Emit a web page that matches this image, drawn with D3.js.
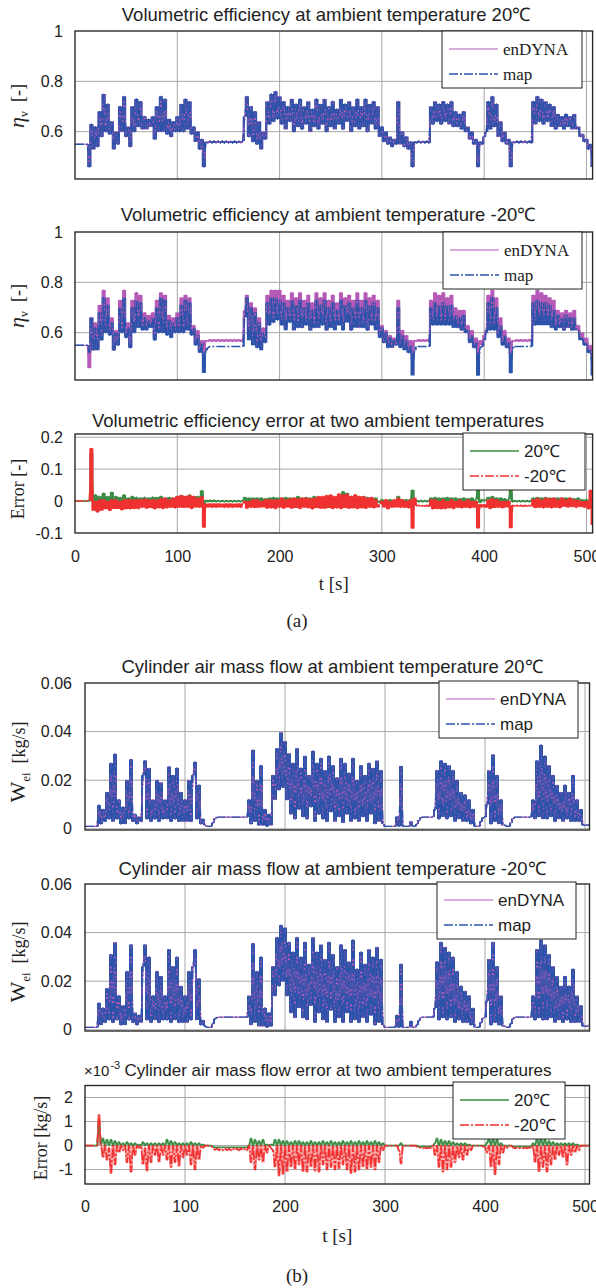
<!DOCTYPE html>
<html>
<head>
<meta charset="utf-8">
<script src="https://cdn.jsdelivr.net/npm/d3@7"></script>
<style>
  body { margin: 0; background: #fff; }
  svg { display: block; }
</style>
</head>
<body>
<svg id="fig" width="596" height="1288"></svg>
<script>
// Every recorded series is sampled every STEP seconds, starting at t = 0.
const STEP = 2;

// Volumetric efficiency at 20 ℃ (enDYNA and map coincide), in units of 0.01
const etaAmb20 = [
  55,55,55,55,55,55,55,46,63,53,
  62,54,68,58,75,60,71,59,64,53,
  60,55,70,60,74,58,62,54,70,60,
  73,62,72,61,66,61,65,62,66,57,
  70,60,74,60,73,59,65,58,64,60,
  66,60,71,60,73,61,72,59,62,56,
  60,53,57,46,56,55.5,56.3,55.5,56.3,55.5,
  56.3,55.5,56.3,55.5,56.3,55.5,56.3,55.5,56.3,55.5,
  56.3,55.5,56.3,66,74,58,70,56,68,55,
  64,53,60,57,72,63,75,64,76,65,
  74,63,72,61,70,64,73,60,71,62,
  73,61,70,63,72,60,69,62,73,61,
  71,63,73,60,70,62,72,61,69,63,
  73,61,71,64,72,60,70,62,73,61,
  70,62,73,60,71,63,72,61,70,58,
  62,56,60,55,58,54,57,55,72,55,
  60,54,58,53,56,46,56,55.5,56.3,55.5,
  56.3,55.5,56.3,55.5,70,63,72,64,71,63,
  72,64,71,63,72,62,68,62,67,61,
  68,60,62,57,60,55,57,46,56,55,
  58,60,72,61,74,62,71,58,64,56,
  60,55,57,46,56,55.5,56.3,55.5,56.3,55.5,
  56.3,55.5,56.3,55.5,72,63,74,64,73,63,
  72,64,71,62,70,61,67,62,66,61,
  67,62,66,61,67,61,62,58,59,56,
  57,53,55,46
];

// Volumetric efficiency at -20 ℃, enDYNA model, in units of 0.01
const etaEnCold = [
  55,55,55,55,55,55,55,46,66,53,
  64,54,71,59,77,61,74,60,66,53,
  61,55,73,61,77,59,64,54,73,61,
  76,63,75,62,68,62,67,63,68,58,
  73,61,76,61,75,60,67,59,66,61,
  68,61,74,61,75,62,74,60,63,56,
  61,53,57,52,57,56.5,57.3,56.5,57.3,56.5,
  57.3,56.5,57.3,56.5,57.3,56.5,57.3,56.5,57.3,56.5,
  57.3,56.5,57.3,69,75,59,72,56,70,55,
  66,54,62,58,75,64,77,65,77,66,
  77,64,75,62,73,65,76,61,74,63,
  76,62,73,64,75,61,72,63,76,62,
  74,64,76,61,73,63,75,62,72,64,
  76,62,74,65,75,61,73,63,76,62,
  73,63,76,61,74,64,75,62,73,59,
  63,56,61,55,59,54,58,55,73,55,
  61,54,59,53,57,52,57,56.5,57.3,56.5,
  57.3,56.5,57.3,56.5,73,64,76,65,75,64,
  76,65,74,64,75,63,70,62,69,61,
  69,60,63,57,61,55,58,52,57,55,
  59,61,75,62,77,63,74,59,66,56,
  61,55,58,52,57,56.5,57.3,56.5,57.3,56.5,
  57.3,56.5,57.3,56.5,75,64,77,65,76,64,
  75,65,74,63,73,62,69,62,68,61,
  69,62,68,61,69,61,63,58,60,56,
  58,53,55,50
];

// Volumetric efficiency at -20 ℃, map model, in units of 0.01
const etaMapCold = [
  55,55,55,55,55,55,55,52,66,53,
  62,53,68,57,74,60,71,59,64,53,
  60,55,70,60,74,58,62,54,70,60,
  73,62,72,61,66,61,65,62,66,57,
  70,60,74,60,73,59,65,58,64,60,
  66,60,71,60,73,61,72,59,62,55,
  59,52,56,44,53,54,54.5,54.5,54.5,54.5,
  54.5,54.5,54.5,54.5,54.5,54.5,54.5,54.5,54.5,54.5,
  54.5,54.5,54.5,66,74,57,70,55,68,54,
  64,53,60,56,72,63,74,64,74,65,
  73,63,72,61,70,64,73,61,71,62,
  73,62,70,63,72,61,69,62,73,62,
  71,63,73,61,70,62,72,61,69,63,
  73,61,71,64,72,61,70,62,73,62,
  70,62,73,61,71,63,72,61,70,58,
  62,56,60,54,58,54,57,55,70,54,
  59,53,57,52,55,43,53,54.5,54.5,54.5,
  54.5,54.5,54.5,54.5,70,63,72,63,71,63,
  72,63,71,63,71,62,67,62,66,61,
  67,60,61,56,59,54,56,43,54,54.5,
  57,60,72,61,74,61,70,58,63,55,
  59,54,56,44,54,54.5,54.5,54.5,54.5,54.5,
  54.5,54.5,54.5,54.5,72,63,73,63,72,63,
  72,63,71,62,69,61,67,62,66,61,
  67,62,66,61,66,61,61,57,58,55,
  56,52,53,43
];

// Volumetric efficiency error (map - enDYNA), in units of 0.01
const etaErr20 = [
  0,0,0,0,0,0,0,0,15,-0.5,
  2,-0.3,1.5,-0.3,2.5,0,1.5,-0.3,2.8,0,
  1.5,-0.3,1.2,-0.3,2,0,1,-0.3,1.5,0,
  1.2,-0.3,1,0,1.2,-0.3,1,0,1.3,-0.2,
  1.2,-0.3,1.5,0,1,-0.3,1.2,0,1,-0.2,
  1.5,-0.3,1.8,0,1.5,-0.3,2,0,1.5,0,
  1.5,-0.3,3.3,-1,0.3,-0.3,0.3,-0.3,0.3,-0.3,
  0.2,-0.3,0.2,-0.3,0.2,-0.3,0.2,-0.3,0.2,-0.3,
  0.2,-0.3,0.2,1.2,-0.2,1,-0.2,1,0,1,
  -0.2,1,-0.2,0.8,0,1,0,1.2,-0.2,1,
  0,1,-0.2,1.2,0,1,-0.2,1,0,1.5,
  -0.2,1,0,1.2,-0.2,1,0,1.5,-0.2,1,
  0,1.2,-0.2,1,0,1.5,-0.2,1,0,1.8,
  -0.2,3,0,2.5,-0.2,1.5,0,2,-0.2,1,
  0,1.5,-0.2,1.2,0,1,-0.2,1,0,-0.5,
  0.5,-1,0.3,-1.5,0.5,-1,0.3,-0.5,1.5,-0.5,
  0.5,-0.5,0.5,-1,0.5,3.5,-0.3,0.2,-0.3,0.2,
  -0.3,0.2,-0.3,0.2,1,-0.2,1.2,0,1,-0.2,
  1,0,1.2,-0.2,1,0,1,-0.2,0.8,0,
  1,-0.2,0.8,0,1,-0.3,0.5,4,-0.5,0.5,
  0,0.5,1.2,0,1.5,-0.2,1,0,1,-0.2,
  0.8,0,0.5,4,-0.3,0.2,-0.3,0.2,-0.3,0.2,
  -0.3,0.2,-0.3,0.2,1,-0.2,1.2,0,1,-0.2,
  1.2,0,1,-0.2,1,0,1,-0.2,1,0,
  1,-0.2,1,0,0.8,-0.2,1,0,0.5,-0.3,
  0.5,-0.5,0.3,3
];
const etaErrCold = [
  0,0,0,0,0,0,0,0,16.5,-3,
  0,-3.5,0.5,-3,0.5,-2.5,0,-3,0.5,-2.5,
  0.5,-2.5,0,-2.8,0.5,-2.5,0.5,-2.5,0.5,-2.4,
  0.5,-2.4,0.5,-2,0.7,-2.3,0.5,-2.2,0.5,-2.5,
  0.5,-2.2,0.8,-2.4,1,-2.2,0.5,-2,1,-2.2,
  1.5,-2,1.8,-2.2,1.5,-2,1.8,-2.4,1.5,-2,
  1,-2,1.5,-8.3,-0.8,-2,-0.8,-2,-0.8,-2,
  -0.8,-2,-0.8,-2,-0.8,-2,-0.8,-2,-0.8,-2,
  -0.8,-2,-0.8,0,-2.3,0,-2,0.5,-2.2,0.5,
  -2,0,-2,0.5,-2.3,0.5,-2.2,0.5,-2.4,0.5,
  -2,1,-2.3,0.5,-2,0.8,-2.3,1,-2.2,0.8,
  -2.4,1,-2,1,-2.2,0.8,-2.5,1,-2.2,1.5,
  -2.3,1.5,-2.4,1.8,-2.2,2,-2.4,1.5,-2.2,2.3,
  -2.4,2,-2.2,2.3,-2.4,1.5,-2.2,2,-2.4,1.5,
  -2.2,1.5,-2.4,1,-2,1.2,-2.2,0.5,-2,-1,
  0,-2,0.5,-2.5,0,-2,0.5,-2,1,-2,
  0.5,-2,0,-2.2,0.5,-8.6,1,-1.5,-1.3,-1.7,
  -1.3,-1.7,-1.3,-1.7,0.5,-2.5,0.5,-2.4,0,-2.5,
  0.5,-2.4,0,-2.2,0.5,-2.4,0,-2,0.5,-2.2,
  0,-2,0.5,-2.2,0,-2,0,-8.5,-1,-2,
  -1,-2,0.5,-2.4,0.8,-2.2,0.5,-2,0,-2.2,
  0,-2,0,-8.5,-1.3,-1.7,-1.3,-1.7,-1.3,-1.7,
  -1.3,-1.7,-1.3,-1.7,0.5,-2.2,1,-2,0.5,-2.2,
  1,-2,0.8,-2.2,1,-2,0.5,-2.2,1,-1.8,
  0.5,-2,1,-1.8,0.5,-2,0.3,-1.8,0,-2,
  0,-2.5,3.5,-7.5
];

// Cylinder air mass flow at 20 ℃ (enDYNA and map coincide), g/s
const flowAmb20 = [
  1,1,1,1,1,1,1,9.7,2,8,
  3,15,4,27,3,30.8,4,12,2,9,
  2,20,4,28.5,3,6,2,5,3,22,
  28,4,25,3,12,4,20,3,19,4,
  12,4,25.5,3,22,4,25,3,15,3,
  12,3,20,3,22,27.5,4,18,2,4,
  1.5,1,1,1,2.5,4.2,4.7,4.8,4.8,4.8,
  4.8,4.8,4.8,4.8,4.8,4.8,4.8,4.8,4.8,4.8,
  4.8,4.8,12,2,32.4,3,20,1.5,26,1.5,
  8,1,6,1.5,22,12,33,16,39.6,17,
  36,12,31,6,27,4,33,8,25,5,
  30,4,22,9,32,3,27,6,29,4,
  24,3,30,7,26,3,21,5,29,2.5,
  27,6,23,3,29,4,20,3,26,5,
  22,3,27,6,25,2,28,3,24,2,
  1,1,1,1,1,1,5,1,25.7,1,
  1,1,1,3,1,1,2,3.5,4.6,4.8,
  4.8,4.8,4.8,4.8,4.8,8,24,4,28,5,
  27,4,26,5,24,3,20,4,15,3,
  14,3,12,2,8,1,1,1,3,4.5,
  4.8,10,24,2,30.5,3,22,2,12,1.5,
  1.5,1,1,2.5,4.2,4.8,4.8,4.8,4.8,4.8,
  4.8,4.8,4.8,4.8,12,4,28,5,34.5,4,
  30,4,26,5,22,3,18,4,15,3,
  18,4,15,3,22,3,12,3,8,1.5,
  1.5,1.5,1.5,4
];

// Cylinder air mass flow at -20 ℃ (enDYNA and map coincide), g/s
const flowCold = [
  1,1,1,1,1,1,1,11,2,9,
  3,17,4,31,3,35.9,4,14,2,10,
  2,24,4,35,3,7,2,6,3,26,
  35,4,30,3,14,4,24,3,22,4,
  14,4,33,3,26,4,30,3,18,3,
  14,3,24,4,26,33,4,21,2,4,
  1.5,1,1,1,2.5,4.5,5,5.2,5.2,5.2,
  5.2,5.2,5.2,5.2,5.2,5.2,5.2,5.2,5.2,5.2,
  5.2,5.2,14,2,35.5,3,24,1.5,30,1.5,
  9,1,7,1.5,26,14,38,18,43,20,
  42,14,36,7,32,5,38,9,30,5,
  36,4,27,10,38,3,32,7,35,4,
  29,3,36,8,31,3,26,5,35,3,
  33,7,28,3,37,4,25,3,32,5,
  27,3,33,6,30,2,34,3,29,2,
  1,1,1,1,1,1,6,1,27,1,
  1,1,1,3.5,1,1,2,3.8,5,5.2,
  5.2,5.2,5.2,5.2,5.2,9,28,4,36,5,
  34,4,32,5,30,3,24,4,18,3,
  16,3,14,2,9,1,1,1,3,4.8,
  5.2,12,29,2,36,3,26,2,14,1.5,
  1.5,1,1,2.5,4.5,5.2,5.2,5.2,5.2,5.2,
  5.2,5.2,5.2,5.2,14,4,33,5,37,4,
  35,4,31,5,26,3,22,4,18,3,
  22,4,18,3,25,3,14,3,10,1.5,
  1.5,1.5,1.5,4
];

// Cylinder air mass flow error (map - enDYNA), 1e-3 kg/s
const flowErr20 = [
  0,0,0,0,0,0,0,1.0,0.05,0.3,
  0,0.25,0,0.25,0,0.2,0,0.15,0,0.1,
  0,0.15,0,0.1,0,0.1,0,0.05,0,0.15,
  0,0.1,0,0.1,0,0.1,0,0.1,0,0.1,
  0,0.25,0,0.2,0,0.15,0,0.1,0,0.1,
  0,0.1,0,0.15,0,0.1,0,0.1,0,0.05,
  0,0,0,0,-0.05,-0.07,-0.07,-0.07,-0.07,-0.07,
  -0.07,-0.07,-0.07,-0.07,-0.07,-0.07,-0.07,-0.07,-0.07,-0.07,
  -0.07,-0.07,0,0.3,0,0.25,0,0.2,0,0.25,
  0,0.05,0,0.05,0,0.25,0,0.25,0,0.2,
  0,0.2,0,0.15,0,0.2,0,0.2,0,0.15,
  0,0.15,0,0.2,0,0.15,0,0.15,0,0.2,
  0,0.15,0,0.2,0,0.15,0,0.15,0,0.2,
  0,0.15,0,0.2,0,0.15,0,0.2,0,0.15,
  0,0.2,0,0.15,0,0.2,0,0.15,0,0.1,
  0,0,0,0,0,0,0,0,0.1,0,
  0,0,0,0,0,0,0,-0.05,-0.05,-0.05,
  -0.05,-0.05,-0.05,-0.05,0,0.1,0.3,0,0.25,0,
  0.2,0,0.2,0,0.15,0,0.1,0,0.1,0,
  0.1,0,0.05,0,0,0,0,0,0,0,
  0,0.1,0.3,0,0.3,0,0.25,0,0.1,0,
  0,0,0,0,-0.05,-0.05,-0.05,-0.05,-0.05,-0.05,
  -0.05,-0.05,-0.05,-0.05,0.1,0,0.3,0,0.3,0,
  0.25,0,0.2,0,0.15,0,0.1,0,0.1,0,
  0.1,0,0.1,0,0.1,0,0.05,0,0,0,
  0,0,0,0.1
];
const flowErrCold = [
  0,0,0,0,0,0,0,1.28,0,-0.5,
  0,-0.6,-0.1,-1.15,0,-0.8,0,-0.3,0,-0.2,
  0,-0.7,0,-1.1,0,-0.4,0,-0.1,0,-0.8,
  -0.1,-1.05,0,-0.7,0,-0.4,0,-0.7,0,-0.4,
  0,-0.6,0,-0.9,0,-0.7,0,-0.85,0,-0.5,
  0,-0.4,0,-0.8,0,-1.0,0,-0.6,0,-0.1,
  0,0,0,0,-0.1,-0.18,-0.12,-0.2,-0.12,-0.2,
  -0.12,-0.2,-0.12,-0.2,-0.12,-0.2,-0.12,-0.2,-0.12,-0.2,
  -0.12,-0.2,0,-0.7,0,-1.0,0,-0.6,0,-0.7,
  0,-0.3,0,-0.1,-0.2,-0.9,0,-1.25,0,-1.2,
  0,-1.1,0,-0.9,0,-1.0,0,-0.8,0,-1.1,
  0,-1.1,0,-0.9,0,-1.05,0,-1.1,0,-0.8,
  0,-1.0,0,-0.9,0,-1.0,0,-0.95,0,-0.8,
  0,-1.0,0,-1.15,0,-1.1,0,-1.0,0,-0.9,
  0,-1.0,0,-0.9,0,-1.0,0,-0.7,0,-0.2,
  0,0,0,0,0,0,0,-0.2,-0.75,0,
  0,0,0,0,0,0,-0.05,-0.1,-0.08,-0.12,
  -0.08,-0.12,-0.08,-0.12,0,-0.4,0,-0.9,0,-1.1,
  0,-1.0,0,-0.9,0,-0.7,0,-0.5,0,-0.6,
  0,-0.4,0,-0.2,0,0,0,0,0,-0.05,
  -0.05,-0.3,0,-0.9,0,-1.2,0,-0.8,0,-0.3,
  0,-0.1,0,0,-0.08,-0.12,-0.08,-0.12,-0.08,-0.12,
  -0.08,-0.12,-0.08,-0.12,0,-0.7,0,-1.1,0,-0.9,
  0,-1.1,0,-0.8,0,-0.6,0,-0.4,0,-0.5,
  0,-0.8,0,-0.4,0,-0.3,0,-0.2,0,0,
  0,0,0,0
];

// Axis ticks
const timeTicks = [0, 100, 200, 300, 400, 500];
const etaTicks = [0.6, 0.8, 1];
const etaErrTicks = [-0.1, 0, 0.1, 0.2];
const flowTicks = [0, 0.02, 0.04, 0.06];
const flowErrTicks = [-1, 0, 1, 2];

// Legend labels
const modelNames = ["enDYNA", "map"];
const tempNames = ["20℃", "-20℃"];

// ---------------------------------------------------------------------------
const SANS = "'Liberation Sans', Arial, Helvetica, sans-serif";
const SERIF = "'Liberation Serif', 'Times New Roman', serif";
const GRID = "#a6a6a6";
const INK = "#222";

const styles = {
  en:   { stroke: "#b65ab8", width: 1.2, dash: null },
  map:  { stroke: "#2b53aa", width: 1.4, dash: "9,2,2,2" },
  g20:  { stroke: "#3b8c45", width: 1.4, dash: null },
  cold: { stroke: "#ef3131", width: 1.4, dash: "9,2,2,2" }
};

// mode: "layered" – overlapping model traces, filled bands under both traces
//       "banded"  – each error trace over its own solid band
//       "light"   – each error trace over a translucent band
const panels = [
  { title: "Volumetric efficiency at ambient temperature 20℃", tx: 326, ty: 21, fs: 18.5,
    left: 75, right: 592.6, top: 31, bottom: 179, xMax: 506,
    yDom: [0.412, 1], yTicks: etaTicks, tickPad: 12,
    series: [[etaAmb20, 0.01, "en"], [etaAmb20, 0.01, "map"]], mode: "layered",
    legend: { x: 442, y: 31, w: 140, font: SERIF, names: modelNames, keys: ["en", "map"] },
    ylab: "eta", ylx: 24, yly: 106 },
  { title: "Volumetric efficiency at ambient temperature -20℃", tx: 328, ty: 221, fs: 18.5,
    left: 75, right: 592.6, top: 232, bottom: 380, xMax: 506,
    yDom: [0.412, 1], yTicks: etaTicks, tickPad: 12,
    series: [[etaEnCold, 0.01, "en"], [etaMapCold, 0.01, "map"]], mode: "layered",
    legend: { x: 443, y: 232, w: 139, font: SERIF, names: modelNames, keys: ["en", "map"] },
    ylab: "eta", ylx: 24, yly: 306 },
  { title: "Volumetric efficiency error at two ambient temperatures", tx: 318, ty: 427, fs: 18.5,
    left: 75, right: 592.6, top: 434, bottom: 533, xMax: 506,
    yDom: [-0.1, 0.21], yTicks: etaErrTicks, tickPad: 12,
    series: [[etaErr20, 0.01, "g20"], [etaErrCold, 0.01, "cold"]], mode: "banded",
    legend: { x: 463, y: 433, w: 122, font: SANS, names: tempNames, keys: ["g20", "cold"] },
    ylab: "errEta", ylx: 24, yly: 489,
    xAxis: { pad: 17.6, label: "t [s]", ly: 590, tag: "(a)", tagY: 627 } },
  { title: "Cylinder air mass flow at ambient temperature 20℃", tx: 332, ty: 673, fs: 18.5,
    left: 85, right: 589.5, top: 683, bottom: 830, xMax: 504.5,
    yDom: [-0.0005, 0.06], yTicks: flowTicks, tickPad: 13,
    series: [[flowAmb20, 0.001, "en"], [flowAmb20, 0.001, "map"]], mode: "layered",
    legend: { x: 439, y: 681, w: 139, font: SANS, names: modelNames, keys: ["en", "map"] },
    ylab: "flow", ylx: 25, yly: 762 },
  { title: "Cylinder air mass flow at ambient temperature -20℃", tx: 332, ty: 875, fs: 18.5,
    left: 85, right: 589.5, top: 884, bottom: 1031, xMax: 504.5,
    yDom: [-0.0005, 0.06], yTicks: flowTicks, tickPad: 13,
    series: [[flowCold, 0.001, "en"], [flowCold, 0.001, "map"]], mode: "layered",
    legend: { x: 437, y: 882, w: 139, font: SANS, names: modelNames, keys: ["en", "map"] },
    ylab: "flow", ylx: 25, yly: 962 },
  { title: "Cylinder air mass flow error at two ambient temperatures", tx: 338, ty: 1076, fs: 17,
    left: 85, right: 589.5, top: 1085.5, bottom: 1184, xMax: 504.5,
    yDom: [-1.6, 2.5], yTicks: flowErrTicks, tickPad: 12,
    series: [[flowErr20, 1, "g20"], [flowErrCold, 1, "cold"]], mode: "light",
    legend: { x: 453, y: 1082, w: 112, font: SANS, names: tempNames, keys: ["g20", "cold"] },
    ylab: "errFlow", ylx: 47, yly: 1138, exponent: true,
    xAxis: { pad: 16.6, label: "t [s]", ly: 1242, tag: "(b)", tagY: 1282 } }
];

const svg = d3.select("#fig");
const defs = svg.append("defs");

function applyStyle(sel, key, width) {
  const s = styles[key];
  sel.attr("fill", "none")
     .attr("stroke", s.stroke)
     .attr("stroke-width", width || s.width)
     .attr("stroke-linejoin", "round")
     .attr("stroke-dasharray", s.dash);
}

function yLabel(g, p) {
  const t = g.append("text")
    .attr("transform", `translate(${p.ylx},${p.yly}) rotate(-90)`)
    .attr("text-anchor", "middle")
    .attr("font-family", SERIF)
    .attr("font-size", 18)
    .attr("fill", INK);
  if (p.ylab === "eta") {
    t.append("tspan").attr("font-style", "italic").attr("font-size", 22).text("η");
    t.append("tspan").attr("font-size", 12).attr("dy", 4).text("v");
    t.append("tspan").attr("dy", -4).text("\u2002[-]");
  } else if (p.ylab === "flow") {
    t.append("tspan").attr("font-size", 22).text("W");
    t.append("tspan").attr("font-size", 13).attr("dy", 5).text("ei");
    t.append("tspan").attr("dy", -5).text("\u2002[kg/s]");
  } else if (p.ylab === "errEta") {
    t.text("Error [-]");
  } else {
    t.text("Error [kg/s]");
  }
}

panels.forEach((p, idx) => {
  const x = d3.scaleLinear().domain([0, p.xMax]).range([p.left, p.right]);
  const y = d3.scaleLinear().domain(p.yDom).range([p.bottom, p.top]);
  const g = svg.append("g");

  // grid
  g.selectAll(null).data(timeTicks.filter(v => v > 0 && v < p.xMax)).join("line")
    .attr("x1", d => x(d)).attr("x2", d => x(d))
    .attr("y1", p.top).attr("y2", p.bottom)
    .attr("stroke", GRID).attr("stroke-width", 1);
  g.selectAll(null).data(p.yTicks.filter(v => v > p.yDom[0] && v < p.yDom[1])).join("line")
    .attr("x1", p.left).attr("x2", p.right)
    .attr("y1", d => y(d)).attr("y2", d => y(d))
    .attr("stroke", GRID).attr("stroke-width", 1);

  // series, clipped to the axes box
  const cid = "plot-clip-" + idx;
  defs.append("clipPath").attr("id", cid).append("rect")
    .attr("x", p.left).attr("y", p.top)
    .attr("width", p.right - p.left).attr("height", p.bottom - p.top);
  const plot = g.append("g").attr("clip-path", `url(#${cid})`);

  // the fast oscillation between successive samples is painted as a filled
  // band spanning each sample and its successor, then the trace is stroked
  const band = k => d3.area()
    .x((d, i) => x(i * STEP))
    .y0((d, i, a) => y(Math.min(d, i + 1 < a.length ? a[i + 1] : d) * k))
    .y1((d, i, a) => y(Math.max(d, i + 1 < a.length ? a[i + 1] : d) * k))
    .curve(d3.curveStepAfter);
  const trace = k => d3.line().x((d, i) => x(i * STEP)).y(d => y(d * k));

  const drawBand = ([data, k, key], opacity) =>
    plot.append("path").datum(data).attr("d", band(k))
      .attr("fill", styles[key].stroke).attr("fill-opacity", opacity || 1);
  const drawTrace = ([data, k, key], w) =>
    plot.append("path").datum(data).attr("d", trace(k)).call(applyStyle, key, w);

  if (p.mode === "layered") {
    p.series.forEach(s => drawBand(s));
    p.series.forEach(s => drawTrace(s));
  } else if (p.mode === "banded") {
    p.series.forEach(s => { drawBand(s); drawTrace(s); });
  } else {
    p.series.forEach(s => { drawBand(s, 0.4); drawTrace(s, 1.7); });
  }

  // axes box
  g.append("rect")
    .attr("x", p.left).attr("y", p.top)
    .attr("width", p.right - p.left).attr("height", p.bottom - p.top)
    .attr("fill", "none").attr("stroke", "#2a2a2a").attr("stroke-width", 1.4);

  // y tick labels
  const ay = g.append("g").attr("transform", `translate(${p.left},0)`)
    .call(d3.axisLeft(y).tickValues(p.yTicks).tickSize(0).tickPadding(p.tickPad)
      .tickFormat(d => String(d)));
  ay.select(".domain").remove();
  ay.selectAll("text").attr("font-family", SANS).attr("font-size", 16).attr("fill", INK);

  // x tick labels and axis title
  if (p.xAxis) {
    const ax = g.append("g").attr("transform", `translate(0,${p.bottom})`)
      .call(d3.axisBottom(x).tickValues(timeTicks).tickSize(0).tickPadding(p.xAxis.pad)
        .tickFormat(d => String(d)));
    ax.select(".domain").remove();
    ax.selectAll("text").attr("font-family", SANS).attr("font-size", 16).attr("fill", INK);
    g.append("text").attr("x", (p.left + p.right) / 2).attr("y", p.xAxis.ly)
      .attr("text-anchor", "middle").attr("font-family", SERIF).attr("font-size", 19)
      .attr("fill", INK).text(p.xAxis.label);
    g.append("text").attr("x", 297).attr("y", p.xAxis.tagY)
      .attr("text-anchor", "middle").attr("font-family", SERIF).attr("font-size", 19)
      .attr("fill", INK).text(p.xAxis.tag);
  }

  // title
  g.append("text").attr("x", p.tx).attr("y", p.ty)
    .attr("text-anchor", "middle").attr("font-family", SANS).attr("font-size", p.fs)
    .attr("fill", INK).text(p.title);

  if (p.exponent) {
    const e = g.append("text").attr("x", 84).attr("y", p.ty)
      .attr("font-family", SANS).attr("font-size", 15).attr("fill", INK);
    e.append("tspan").text("×10");
    e.append("tspan").attr("font-size", 11).attr("dx", 1).attr("dy", -7).text("-3");
  }

  yLabel(g, p);

  // legend
  const L = p.legend;
  const lg = g.append("g").attr("transform", `translate(${L.x},${L.y})`);
  lg.append("rect").attr("width", L.w).attr("height", 57)
    .attr("fill", "#fff").attr("stroke", "#222").attr("stroke-width", 1);
  L.keys.forEach((key, i) => {
    const cy = 18 + i * 25;
    lg.append("line").attr("x1", 7).attr("x2", 56).attr("y1", cy).attr("y2", cy)
      .call(applyStyle, key);
    lg.append("text").attr("x", 61).attr("y", cy + 6)
      .attr("font-family", L.font).attr("font-size", 17).attr("fill", INK)
      .text(L.names[i]);
  });
});
</script>
</body>
</html>
